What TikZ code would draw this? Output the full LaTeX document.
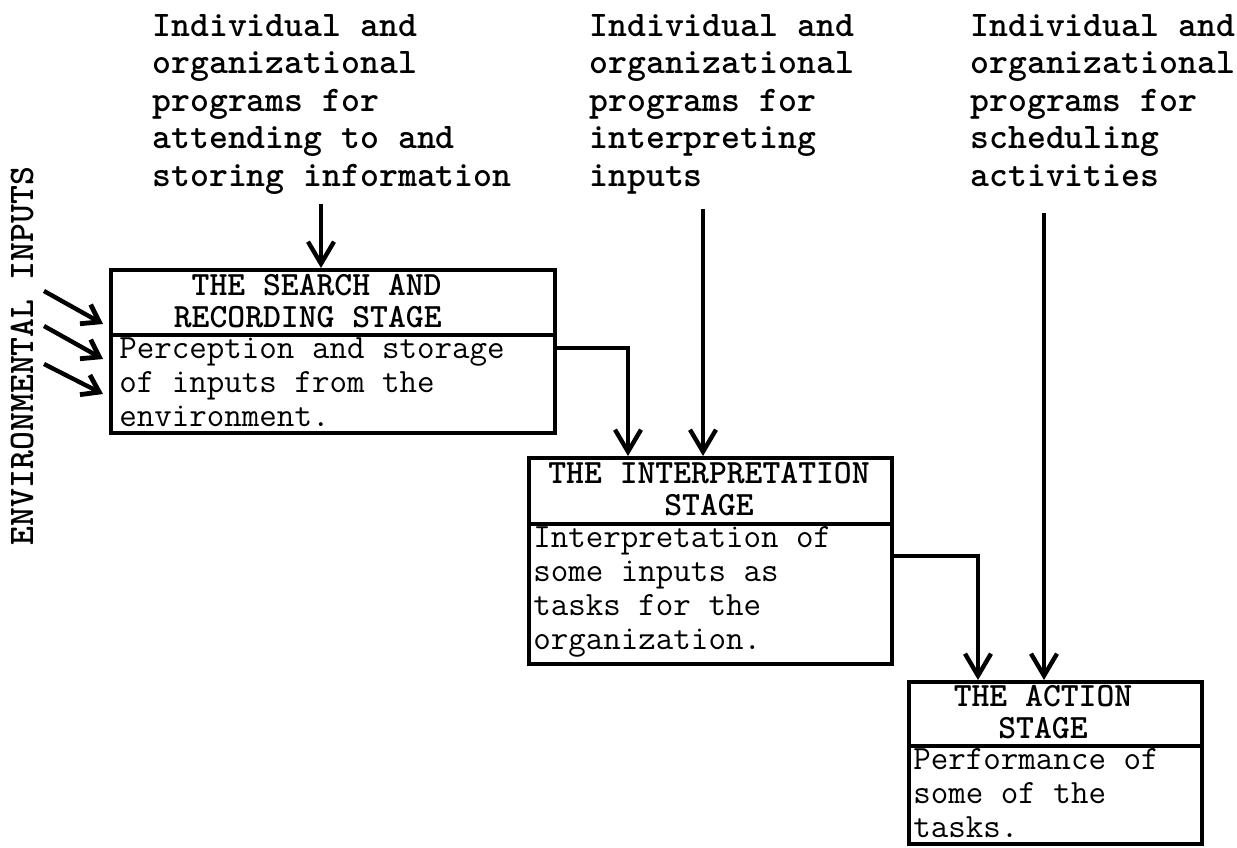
\documentclass[tikz,border=0pt]{standalone}
\usetikzlibrary{arrows.meta,calc}
\begin{document}
\begin{tikzpicture}[x=0.5pt,y=-0.5pt,
  box/.style={draw,line width=1.75pt,inner sep=0pt,anchor=north west,minimum width=#1},
  lbl/.style={font=\ttfamily\bfseries\fontsize{18}{18.75}\selectfont,align=left,inner sep=0pt},
  head/.style={font=\ttfamily\bfseries\fontsize{17}{16}\selectfont,inner sep=0pt},
  body/.style={font=\ttfamily\fontsize{17}{17}\selectfont,align=left,inner sep=0pt,anchor=west},
  conn/.style={line width=1.6pt,-{Straight Barb[length=11pt,width=13pt,line width=2.2pt]}},
  inarrow/.style={line width=2.2pt,-{Straight Barb[length=8pt,width=11pt,line width=2.4pt]}}
]
\useasboundingbox (0,0) rectangle (1237,847);

% program labels along the top
\node[lbl,anchor=north west] (p1) at (152,14) {Individual and\\organizational\\programs for\\attending to and\\storing information};
\node[lbl,anchor=north west] (p2) at (589,14) {Individual and\\organizational\\programs for\\interpreting\\inputs};
\node[lbl,anchor=north west] (p3) at (970,14) {Individual and\\organizational\\programs for\\scheduling\\activities};

% stage 1
\node[box=222pt,minimum height=32.5pt] (s1h) at (109,268) {};
\node[box=222pt,minimum height=49pt] (s1b) at (109,333) {};
\node[head,align=right,anchor=east] (t1h) at (442,301) {THE SEARCH AND\\RECORDING STAGE};
\node[body] (t1b) at (119,382) {Perception and storage\\of inputs from the\\environment.};

% stage 2
\node[box=181.5pt,minimum height=33pt] (s2h) at (527,456) {};
\node[box=181.5pt,minimum height=70pt] (s2b) at (527,522) {};
\node[head,align=center] (t2h) at (709,489) {THE INTERPRETATION\\STAGE};
\node[body] (t2b) at (533,592) {Interpretation of\\some inputs as\\tasks for the\\organization.};

% stage 3
\node[box=146.5pt,minimum height=32pt] (s3h) at (907,680) {};
\node[box=146.5pt,minimum height=49pt] (s3b) at (907,744) {};
\node[head,align=center] (t3h) at (1043,712) {THE ACTION\\STAGE};
\node[body] (t3b) at (913,793) {Performance of\\some of the\\tasks.};

% environmental inputs
\node[lbl,rotate=90] (env) at (22,356) {ENVIRONMENTAL INPUTS};
\coordinate (e1) at (44,291); \coordinate (f1) at (103,324);
\coordinate (e2) at (44,326); \coordinate (f2) at (103,359);
\coordinate (e3) at (44,364); \coordinate (f3) at (103,394);
\draw[inarrow] (e1) -- (f1);
\draw[inarrow] (e2) -- (f2);
\draw[inarrow] (e3) -- (f3);

% program arrows into the stages
\coordinate (a1) at (321,204);
\coordinate (a2) at (703,209);
\coordinate (a3) at (1044,213);
\draw[conn] (a1) -- (a1 |- s1h.north);
\draw[conn] (a2) -- (a2 |- s2h.north);
\draw[conn] (a3) -- (a3 |- s3h.north);

% flow between stages
\draw[conn] ($(s1b.north east)+(0,15)$) -| ($(s2h.north west)+(101,0)$);
\draw[conn] ($(s2b.north east)+(0,34)$) -| ($(s3h.north west)+(71,0)$);
\end{tikzpicture}
\end{document}
